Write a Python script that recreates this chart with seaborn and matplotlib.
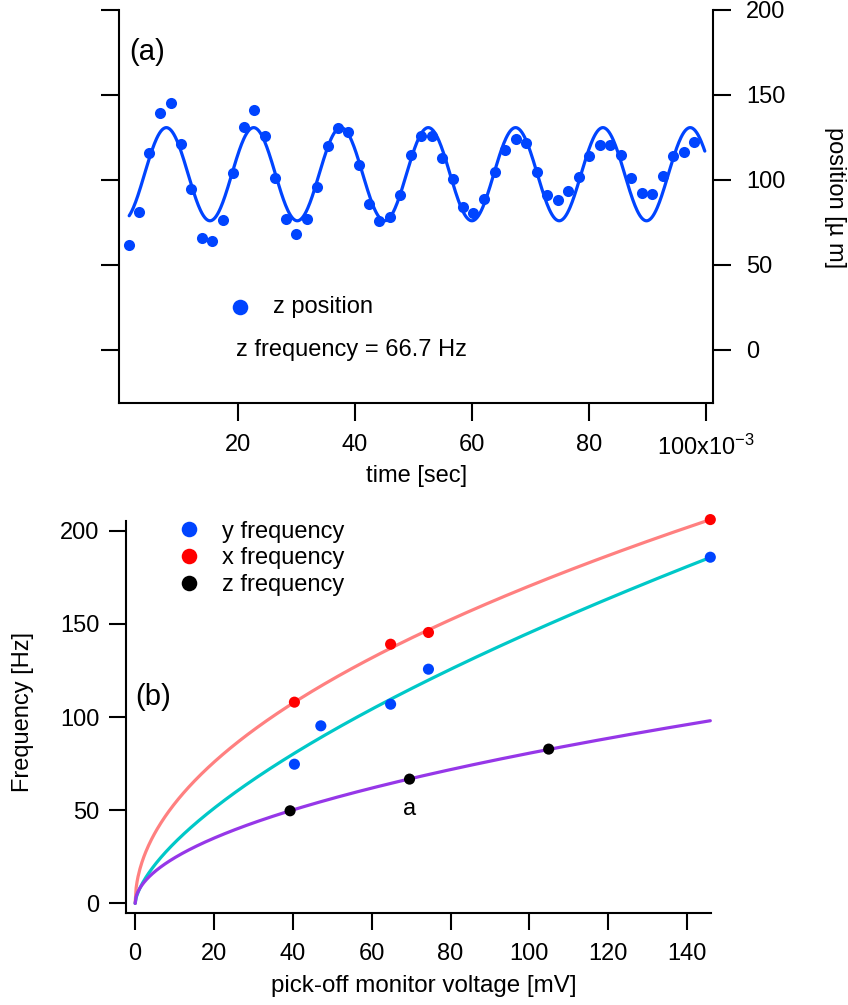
import numpy as np
import pandas as pd
import matplotlib
matplotlib.use("Agg")
import matplotlib.pyplot as plt
import seaborn as sns

# ---------------- data: panel (a) ----------------
time_ms = [1.4, 3.1, 4.8, 6.7, 8.5, 10.3, 12.0, 13.8, 15.6, 17.4,
           19.1, 21.0, 22.7, 24.6, 26.3, 28.2, 29.9, 31.8, 33.5, 35.4,
           37.1, 38.8, 40.7, 42.4, 44.1, 46.0, 47.7, 49.6, 51.3, 53.2,
           54.9, 56.8, 58.5, 60.2, 62.1, 63.9, 65.6, 67.5, 69.2, 71.1,
           72.8, 74.7, 76.4, 78.3, 80.0, 81.9, 83.6, 85.5, 87.2, 89.1,
           90.8, 92.6, 94.4, 96.2, 98.0]
z_position = [61.8, 81.0, 115.9, 139.4, 145.3, 121.2, 94.7, 65.9, 64.1, 76.5,
              104.1, 131.2, 141.2, 125.9, 101.2, 77.1, 68.2, 77.1, 95.9, 120.0,
              130.6, 128.2, 108.8, 85.9, 75.9, 78.2, 91.2, 114.7, 125.9, 125.9,
              112.9, 100.6, 84.1, 80.6, 88.8, 104.7, 117.6, 124.1, 121.8, 104.7,
              91.2, 88.2, 93.5, 101.8, 114.1, 120.6, 120.6, 114.7, 101.2, 92.4,
              91.8, 102.4, 114.1, 116.5, 122.4]
# sine fit parameters
fit_freq_hz = 67.0
fit_amp = 27.4
fit_offset = 103.4
fit_peak_ms = 7.75
fit_range_ms = (1.4, 99.8)

x_ticks_a = [0.02, 0.04, 0.06, 0.08, 0.10]
x_ticklabels_a = ["20", "40", "60", "80", r"100x10$^{\mathregular{-3}}$"]
y_ticks_a = [0, 50, 100, 150, 200]

# ---------------- data: panel (b) ----------------
y_volt = [40.4, 47.1, 64.8, 74.4, 145.9]
y_freq = [74.7, 95.3, 106.9, 125.7, 185.8]
x_volt = [40.4, 64.8, 74.4, 145.9]
x_freq = [108.0, 139.1, 145.4, 206.0]
z_volt = [39.3, 69.6, 104.9]
z_freq = [49.7, 66.7, 82.8]
# power-law fits f = a * V**b
fit_y = (7.28, 0.65)
fit_x = (16.8, 0.503)
fit_z = (7.42, 0.518)
fit_vmax = 145.9

x_ticks_b = [0, 20, 40, 60, 80, 100, 120, 140]
y_ticks_b = [0, 50, 100, 150, 200]

BLUE = "#0044ff"
RED = "#ff0000"
BLACK = "#000000"
C_X = "#ff8080"
C_Y = "#00c8c8"
C_Z = "#9637e8"

sns.set_theme(style="ticks", rc={
    "axes.edgecolor": "black", "text.color": "black",
    "xtick.color": "black", "ytick.color": "black",
    "axes.labelcolor": "black"})
plt.rcParams['font.family'] = ['Liberation Sans', 'DejaVu Sans']
plt.rcParams['mathtext.fontset'] = 'custom'
plt.rcParams['mathtext.rm'] = 'Liberation Sans'
plt.rcParams['mathtext.it'] = 'Liberation Sans'

W, H = 848, 1005
FS = 17
fig = plt.figure(figsize=(W / 100, H / 100), dpi=100)

def fx(px):
    return px / W

def fy(py):
    return 1 - py / H

ax1 = fig.add_axes([fx(119), fy(403), (713 - 119) / W, (403 - 10) / H])
ax2 = fig.add_axes([fx(125.7), fy(912.7), (710.7 - 125.7) / W, (912.7 - 520.7) / H])

# ---------- panel (a) ----------
t_s = np.array(time_ms) / 1000.0
tf_ms = np.linspace(fit_range_ms[0], fit_range_ms[1], 800)
pf = fit_offset + fit_amp * np.cos(2 * np.pi * fit_freq_hz * (tf_ms - fit_peak_ms) / 1000.0)
sns.lineplot(x=tf_ms / 1000.0, y=pf, color=BLUE, linewidth=2.3, ax=ax1, legend=False, sort=False)
sns.scatterplot(x=t_s, y=z_position, color=BLUE, s=64, linewidth=0, ax=ax1,
                label="z position", zorder=3)

ax1.set_xlim(-0.00034, 0.1012)
ax1.set_ylim(-31.2, 200)
ax1.set_xticks(x_ticks_a)
ax1.set_xticklabels(x_ticklabels_a)
ax1.set_yticks(y_ticks_a)
for s in ["left", "right", "bottom"]:
    ax1.spines[s].set_visible(True)
    ax1.spines[s].set_linewidth(1.5)
ax1.spines["top"].set_visible(False)
ax1.tick_params(axis="both", direction="out", length=13, width=1.5, labelsize=FS)
ax1.tick_params(axis="y", left=True, right=True, labelleft=False, labelright=True, pad=11)
ax1.tick_params(axis="x", bottom=True, pad=9.5)
ax1.set_xlabel("time [sec]", fontsize=FS)
ax1.xaxis.set_label_coords(0.501, -0.186)
ax1.xaxis.label.set_va("center")
ax1.yaxis.set_label_position("right")
ax1.set_ylabel("position [µ m]", fontsize=FS, rotation=270)
ax1.yaxis.label.set_va("center")
ax1.yaxis.set_label_coords(1.205, 0.524)
leg1 = ax1.legend(loc="center left", bbox_to_anchor=(fx(228), fy(307)),
                  bbox_transform=fig.transFigure, frameon=False, fontsize=FS,
                  handlelength=1.0, handletextpad=0.9, borderpad=0, borderaxespad=0,
                  markerscale=1.4)
fig.text(fx(129), fy(52), "(a)", fontsize=21, ha="left", va="center")
fig.text(fx(236), fy(350), "z frequency = 66.7 Hz", fontsize=FS, ha="left", va="center")

# ---------- panel (b) ----------
vf = np.linspace(0, fit_vmax, 600)
for (a, b), col in [(fit_x, C_X), (fit_y, C_Y), (fit_z, C_Z)]:
    sns.lineplot(x=vf, y=a * vf ** b, color=col, linewidth=2.3, ax=ax2, legend=False,
                 sort=False, clip_on=False)

df = pd.DataFrame({
    "V": y_volt + x_volt + z_volt,
    "f": y_freq + x_freq + z_freq,
    "series": ["y frequency"] * len(y_volt) + ["x frequency"] * len(x_volt) + ["z frequency"] * len(z_volt),
})
sns.scatterplot(data=df, x="V", y="f", hue="series",
                hue_order=["y frequency", "x frequency", "z frequency"],
                palette={"y frequency": BLUE, "x frequency": RED, "z frequency": BLACK},
                s=64, linewidth=0, ax=ax2, clip_on=False, zorder=3)

ax2.set_xlim(-2.4, 146)
ax2.set_ylim(-5, 205.4)
ax2.set_xticks(x_ticks_b)
ax2.set_yticks(y_ticks_b)
for s in ["left", "bottom"]:
    ax2.spines[s].set_linewidth(1.5)
ax2.spines["top"].set_visible(False)
ax2.spines["right"].set_visible(False)
ax2.tick_params(axis="both", direction="out", length=12.5, width=1.5, labelsize=FS)
ax2.tick_params(axis="y", pad=6.5)
ax2.tick_params(axis="x", pad=9)
ax2.set_xlabel("pick-off monitor voltage [mV]", fontsize=17.4)
ax2.xaxis.set_label_coords(0.51, -0.187)
ax2.xaxis.label.set_va("center")
ax2.set_ylabel("Frequency [Hz]", fontsize=FS)
ax2.yaxis.label.set_va("center")
ax2.yaxis.set_label_coords(-0.1756, 0.512)
handles, labels = ax2.get_legend_handles_labels()
ax2.legend(handles, labels, loc="center left", bbox_to_anchor=(fx(177), fy(558.3)),
           bbox_transform=fig.transFigure, frameon=False, fontsize=FS,
           handlelength=1.0, handletextpad=0.9, borderpad=0, borderaxespad=0,
           labelspacing=0.2, markerscale=1.4)
fig.text(fx(135), fy(697), "(b)", fontsize=21, ha="left", va="center")
fig.text(fx(410), fy(809), "a", fontsize=FS, ha="center", va="center")

fig.savefig("out.png", dpi=100)
